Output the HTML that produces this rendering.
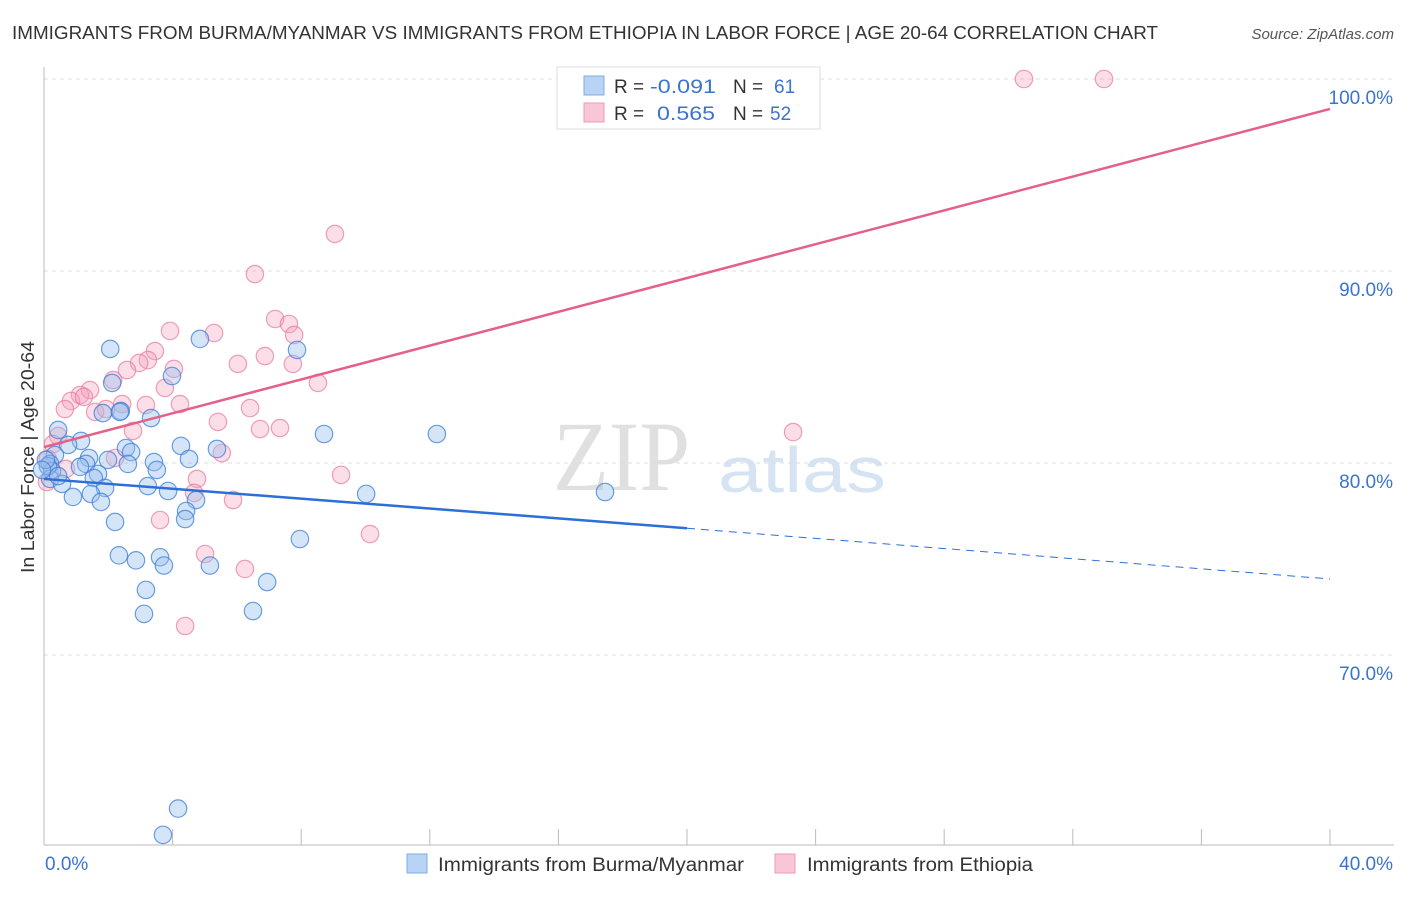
<!DOCTYPE html>
<html><head><meta charset="utf-8"><style>
body{margin:0;background:#fff;font-family:"Liberation Sans",sans-serif;}
svg text{font-family:"Liberation Sans",sans-serif;}
</style></head><body>
<svg id="chart" width="1406" height="892" xmlns="http://www.w3.org/2000/svg">
<text x="12" y="39" font-size="18" fill="#333" textLength="1146" lengthAdjust="spacingAndGlyphs">IMMIGRANTS FROM BURMA/MYANMAR VS IMMIGRANTS FROM ETHIOPIA IN LABOR FORCE | AGE 20-64 CORRELATION CHART</text>
<text x="1394" y="39" font-size="15" fill="#555" text-anchor="end" font-style="italic">Source: ZipAtlas.com</text>
<text x="34" y="457" font-size="18.5" fill="#333" text-anchor="middle" transform="rotate(-90 34 457)" textLength="232" lengthAdjust="spacingAndGlyphs">In Labor Force | Age 20-64</text>
<text x="553" y="490" font-size="100" fill="#e0e0e0" style="font-family:'Liberation Serif',serif" textLength="137" lengthAdjust="spacingAndGlyphs">ZIP</text>
<text x="718" y="492" font-size="64" fill="#d6e3f3" textLength="168" lengthAdjust="spacingAndGlyphs">atlas</text>
<g id="grid"></g><g id="pts"></g><g id="lines"></g>
<g>
<rect x="557" y="67" width="263" height="62" fill="#fff" stroke="#ddd"/>
<rect x="584" y="76" width="20" height="19" fill="#b8d3f3" stroke="#7aaee8"/>
<rect x="584" y="103" width="20" height="19" fill="#f9c6d6" stroke="#ee9ab5"/>
<text x="614" y="93" font-size="19" fill="#333">R =</text>
<text x="650" y="93" font-size="19" fill="#3b73d1" textLength="66" lengthAdjust="spacingAndGlyphs">-0.091</text>
<text x="733" y="93" font-size="19" fill="#333">N =</text>
<text x="774" y="93" font-size="19" fill="#3b73d1">61</text>
<text x="614" y="120" font-size="19" fill="#333">R =</text>
<text x="657" y="120" font-size="19" fill="#3b73d1" textLength="58" lengthAdjust="spacingAndGlyphs">0.565</text>
<text x="733" y="120" font-size="19" fill="#333">N =</text>
<text x="770" y="120" font-size="19" fill="#3b73d1">52</text>
</g>
<g>
<rect x="407" y="854" width="20" height="19" fill="#b8d3f3" stroke="#7aaee8"/>
<text x="438" y="871" font-size="19" fill="#333" textLength="306" lengthAdjust="spacingAndGlyphs">Immigrants from Burma/Myanmar</text>
<rect x="775" y="854" width="20" height="19" fill="#f9c6d6" stroke="#ee9ab5"/>
<text x="807" y="871" font-size="19" fill="#333" textLength="226" lengthAdjust="spacingAndGlyphs">Immigrants from Ethiopia</text>
</g>
</svg>
<script>
const yTicks=[100,90,80,70];
const yTickLabels=["100.0%","90.0%","80.0%","70.0%"];
const xTicks=[0,4,8,12,16,20,24,28,32,36,40];
const xEndLabels=["0.0%","40.0%"];
const blueX=[2.06,4.85,7.87,2.12,3.98,2.39,3.33,1.83,0.44,1.15,0.75,2.55,2.71,4.26,5.38,0.34,1.4,1.99,3.42,4.51,0.19,1.31,2.61,3.51,0.25,1.68,1.55,0.19,0.56,1.9,3.23,3.86,4.73,0.9,1.46,1.77,4.42,4.39,2.21,7.96,2.33,2.86,3.61,3.73,5.16,6.94,3.17,3.11,6.5,8.71,12.22,10.02,17.45,4.17,3.7,0.12,0.06,0.44,1.12,-0.06,2.36];
const blueY=[85.94,86.46,85.89,84.17,84.53,82.71,82.34,82.6,81.72,81.15,80.94,80.78,80.57,80.89,80.73,80.42,80.26,80.16,80.05,80.21,79.95,79.95,79.95,79.64,79.58,79.43,79.22,79.17,78.91,78.7,78.8,78.54,78.07,78.23,78.39,77.97,77.5,77.08,76.93,76.04,75.19,74.93,75.09,74.66,74.66,73.8,73.39,72.14,72.29,81.51,81.51,78.39,78.49,62.0,60.63,79.84,80.16,79.32,79.8,79.64,82.66];
const pinkX=[30.48,32.97,9.05,6.56,7.19,7.62,7.78,3.92,5.29,3.45,6.87,7.74,6.03,3.23,2.96,4.04,2.58,2.15,3.76,8.52,1.43,1.12,0.84,1.24,0.65,1.59,1.93,2.43,3.17,4.23,6.41,5.41,2.77,6.72,7.34,5.53,2.21,0.44,0.28,0.12,0.09,0.68,9.24,4.76,4.67,5.88,3.61,10.14,5.01,6.25,4.39,23.3];
const pinkY=[100,100,91.93,89.84,87.5,87.24,86.67,86.88,86.77,85.83,85.57,85.16,85.16,85.36,85.21,84.9,84.84,84.32,83.91,84.17,83.8,83.54,83.23,83.44,82.81,82.66,82.81,83.07,83.02,83.07,82.86,82.14,81.67,81.77,81.82,80.52,80.26,81.41,80.99,80.21,79.01,79.69,79.38,79.17,78.44,78.07,77.03,76.3,75.26,74.48,71.51,81.61];
const pinkLine=[[0,80.83],[40,98.44]];
const blueLine=[[0,79.17],[20,76.6],[40,73.96]];
const NS="http://www.w3.org/2000/svg";
const X0=44,X1=1330,YTOP=79,PPY=19.2;
const sx=v=>X0+(X1-X0)*v/40;
const sy=v=>YTOP+(100-v)*PPY;
function mk(tag,attrs,parent){const e=document.createElementNS(NS,tag);for(const k in attrs)e.setAttribute(k,attrs[k]);parent.appendChild(e);return e;}
const grid=document.getElementById('grid');
yTicks.forEach((t,i)=>{
  const l=mk('line',{x1:X0,x2:1394,y1:sy(t),y2:sy(t),stroke:'#ddd','stroke-dasharray':'4,4'},grid);
  
  
  const tx=mk('text',{x:1393,y:sy(t)+25,'font-size':19,fill:'#3b73d1','text-anchor':'end'},grid);
  tx.textContent=yTickLabels[i];
  
  
});
const ax=mk('line',{x1:X0,x2:X0,y1:67,y2:845,stroke:'#bbb'},grid);


const bx=mk('line',{x1:X0,x2:1394,y1:845,y2:845,stroke:'#bbb'},grid);


xTicks.forEach(t=>{
  const l=mk('line',{x1:sx(t),x2:sx(t),y1:829,y2:845,stroke:'#bbb'},grid);
  
  
});
const xl0=mk('text',{x:45,y:870,'font-size':19,fill:'#3b73d1'},grid);xl0.textContent=xEndLabels[0];


const xl1=mk('text',{x:1393,y:870,'font-size':19,fill:'#3b73d1','text-anchor':'end'},grid);xl1.textContent=xEndLabels[1];


const pts=document.getElementById('pts');
pinkX.forEach((x,i)=>{
  const c=mk('circle',{cx:sx(x),cy:sy(pinkY[i]),r:8.7,fill:'rgba(244,160,188,0.35)',stroke:'rgba(232,120,156,0.7)','stroke-width':1.2},pts);
  
  
});
blueX.forEach((x,i)=>{
  const c=mk('circle',{cx:sx(x),cy:sy(blueY[i]),r:8.7,fill:'rgba(150,190,238,0.4)',stroke:'rgba(60,125,215,0.75)','stroke-width':1.2},pts);
  
  
});
const lines=document.getElementById('lines');
const pl=mk('line',{x1:sx(pinkLine[0][0]),y1:sy(pinkLine[0][1]),x2:sx(pinkLine[1][0]),y2:sy(pinkLine[1][1]),stroke:'#e4608a','stroke-width':2.5},lines);


const bl=mk('line',{x1:sx(blueLine[0][0]),y1:sy(blueLine[0][1]),x2:sx(blueLine[1][0]),y2:sy(blueLine[1][1]),stroke:'#2c6fd6','stroke-width':2.5},lines);


const bd=mk('line',{x1:sx(blueLine[1][0]),y1:sy(blueLine[1][1]),x2:sx(blueLine[2][0]),y2:sy(blueLine[2][1]),stroke:'#2c6fd6','stroke-width':1,'stroke-dasharray':'8,6'},lines);


</script>
</body></html>
